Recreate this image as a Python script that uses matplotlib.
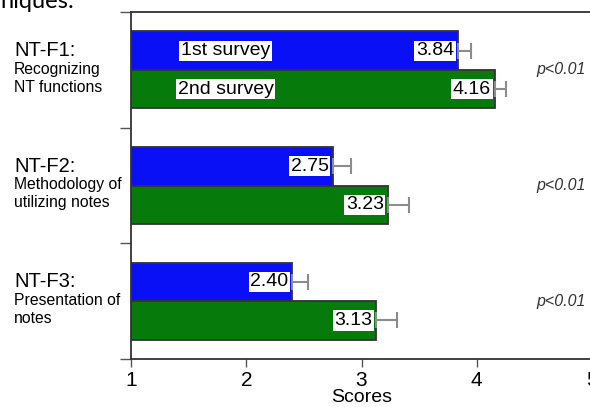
import numpy as np
import matplotlib
matplotlib.use("Agg")
import matplotlib.pyplot as plt

plt.rcParams["font.family"] = ["Liberation Sans", "DejaVu Sans"]

# Survey scores for the three note-taking factors
factor_codes = ["NT-F1:", "NT-F2:", "NT-F3:"]
factor_names = ["Recognizing\nNT functions", "Methodology of\nutilizing notes", "Presentation of\nnotes"]
first_scores = [3.84, 2.75, 2.40]
second_scores = [4.16, 3.23, 3.13]
first_err = [0.11, 0.16, 0.14]
second_err = [0.09, 0.18, 0.18]
p_labels = ["p<0.01", "p<0.01", "p<0.01"]
series_names = ["1st survey", "2nd survey"]
x_ticks = [1, 2, 3, 4, 5]

W, H = 590, 407
fig = plt.figure(figsize=(W / 100, H / 100), dpi=100)
ax = fig.add_axes([131 / W, (H - 359) / H, 461 / W, 347 / H])

blue = "#0a10f5"
green = "#067a0a"
bar_h = 1 / 3
centers = np.arange(len(factor_codes))
base = 1.0

for vals, errs, color, off in [(first_scores, first_err, blue, -bar_h / 2),
                               (second_scores, second_err, green, bar_h / 2)]:
    vals = np.array(vals)
    ax.barh(centers + off, vals - base, left=base, height=bar_h, color=color,
            edgecolor="#333333", linewidth=1.3, zorder=2)
    ax.errorbar(vals, centers + off, xerr=[np.zeros(len(vals)), errs], fmt="none",
                ecolor="#8c8c8c", elinewidth=1.5, capsize=6, capthick=1.5, zorder=3)
    for v, y in zip(vals, centers + off):
        ax.annotate(f"{v:.2f}", xy=(v, y), xytext=(-3, 0), textcoords="offset points",
                    ha="right", va="center", fontsize=14, color="black", zorder=4,
                    bbox=dict(boxstyle="square,pad=0.08", fc="white", ec="none"))

# series names inside the first group
for name, off in zip(series_names, [-bar_h / 2, bar_h / 2]):
    ax.text(1.82, centers[0] + off, name, ha="center", va="center", fontsize=14,
            zorder=4, bbox=dict(boxstyle="square,pad=0.08", fc="white", ec="none"))

for c, p in zip(centers, p_labels):
    ax.text(4.52, c, p, ha="left", va="center", fontsize=11.5, style="italic",
            color="#333333")

ax.set_xlim(1, 5)
ax.set_ylim(2.5, -0.5)
ax.set_xticks(x_ticks)
ax.set_xticklabels([str(t) for t in x_ticks], fontsize=15)
ax.set_yticks([-0.5, 0.5, 1.5, 2.5])
ax.set_yticklabels([])
ax.tick_params(axis="x", direction="out", length=6, width=1, color="#555555", pad=3)
ax.tick_params(axis="y", direction="out", length=8, width=1, color="#555555")
ax.set_xlabel("Scores", fontsize=14, labelpad=-1)
for s in ["left", "bottom", "top", "right"]:
    ax.spines[s].set_color("#333333")
    ax.spines[s].set_linewidth(1.3)

# factor labels to the left of the axes
for c, code, name in zip(centers, factor_codes, factor_names):
    y_mid = ax.transData.transform((1, c))[1] / H
    fig.text(14 / W, y_mid + 29 / H, code, ha="left", va="top", fontsize=14.5)
    fig.text(14 / W, y_mid + 8 / H, name, ha="left", va="top", fontsize=11.3,
             linespacing=1.25)

fig.text(0.0, 1 - 8 / H, "niques:", ha="left", va="baseline", fontsize=17,
         family=["Lato", "DejaVu Sans"])

fig.savefig("out.png", dpi=100)
